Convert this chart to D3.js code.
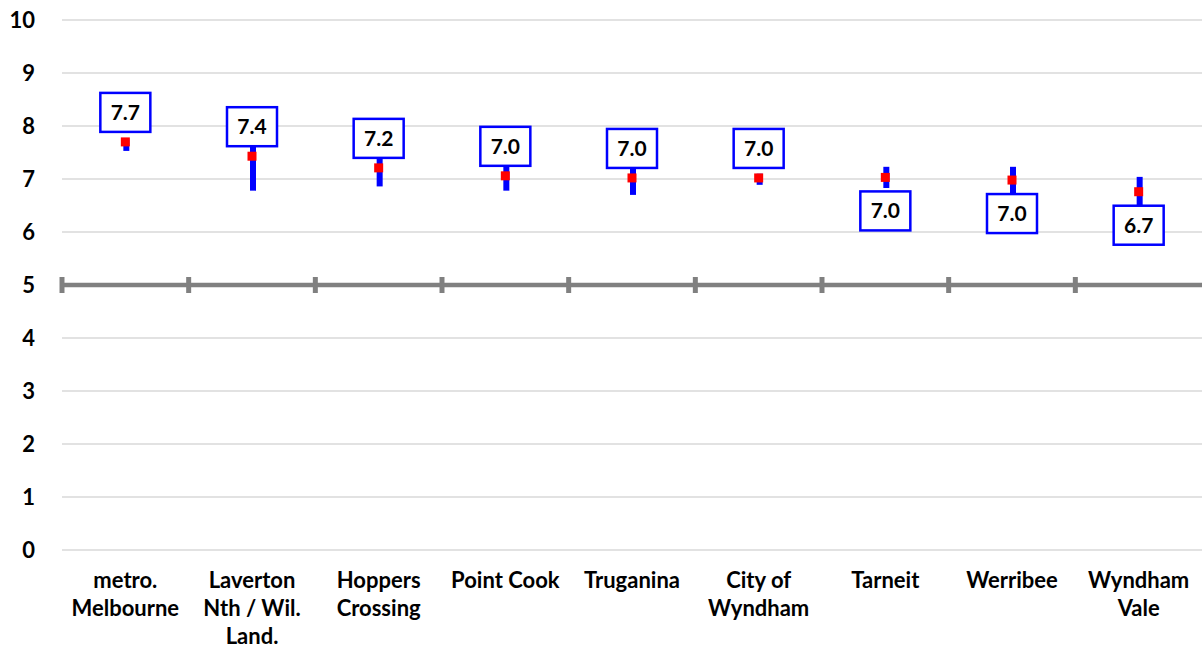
<!DOCTYPE html>
<html><head><meta charset="utf-8">
<script src="https://cdn.jsdelivr.net/npm/d3@7"></script>
<style>
html,body{margin:0;padding:0;background:#fff;}
svg{display:block;font-family:Lato,"Liberation Sans",sans-serif;}
</style></head>
<body>
<svg id="chart" width="1202" height="648"></svg>
<script>
const categories = [["metro.","Melbourne"],["Laverton","Nth / Wil.","Land."],["Hoppers","Crossing"],["Point Cook"],["Truganina"],["City of","Wyndham"],["Tarneit"],["Werribee"],["Wyndham","Vale"]];
const means = [7.70, 7.43, 7.21, 7.06, 7.02, 7.02, 7.03, 6.98, 6.76];
const lows  = [7.53, 6.78, 6.86, 6.78, 6.70, 6.89, 6.83, 6.73, 6.48];
const highs = [7.75, 8.08, 7.56, 7.34, 7.34, 7.10, 7.23, 7.23, 7.04];
const labels = ["7.7","7.4","7.2","7.0","7.0","7.0","7.0","7.0","6.7"];
const labelAbove = [true,true,true,true,true,true,false,false,false];
const yTicks = [0,1,2,3,4,5,6,7,8,9,10];

const svg = d3.select("#chart");
const W = 1202;
const x = d3.scaleBand().domain(d3.range(categories.length)).range([62, 1202]).paddingInner(0).paddingOuter(0);
const y = d3.scaleLinear().domain([0,10]).range([550,20]);

// gridlines
svg.append("g").selectAll("line").data(yTicks.filter(d=>d!==5)).join("line")
  .attr("x1",62).attr("x2",W).attr("y1",d=>y(d)).attr("y2",d=>y(d))
  .attr("stroke","#d9d9d9").attr("stroke-width",1.3);

// y axis labels
svg.append("g").selectAll("text").data(yTicks).join("text")
  .attr("x",35).attr("y",d=>y(d)).attr("dy","0.36em")
  .attr("text-anchor","end").attr("font-weight","bold").attr("font-size",22).attr("fill","#000")
  .text(d=>d);

// category axis at 5
const ax = svg.append("g");
ax.append("line").attr("x1",62).attr("x2",W).attr("y1",y(5)).attr("y2",y(5))
  .attr("stroke","#808080").attr("stroke-width",4.5);
const tickXs = d3.range(categories.length).map(i=>x(i));
ax.selectAll("line.t").data(tickXs).join("line").attr("class","t")
  .attr("x1",d=>d).attr("x2",d=>d).attr("y1",y(5)-8).attr("y2",y(5)+8)
  .attr("stroke","#808080").attr("stroke-width",5);

// category labels
const cx = i => x(i) + x.bandwidth()/2;
const cl = svg.append("g");
categories.forEach((lines,i)=>{
  const t = cl.append("text").attr("x",cx(i)).attr("y",588)
    .attr("text-anchor","middle").attr("font-weight","bold").attr("font-size",22).attr("fill","#000");
  lines.forEach((ln,j)=>t.append("tspan").attr("x",cx(i)).attr("dy",j===0?0:28).text(ln));
});

// error bars
svg.append("g").selectAll("line").data(d3.range(means.length)).join("line")
  .attr("x1",i=>cx(i)+1).attr("x2",i=>cx(i)+1).attr("y1",i=>y(lows[i])).attr("y2",i=>y(highs[i]))
  .attr("stroke","#0000ff").attr("stroke-width",6);

// mean markers
svg.append("g").selectAll("rect").data(d3.range(means.length)).join("rect")
  .attr("x",i=>cx(i)-4.5).attr("y",i=>y(means[i])-4.5).attr("width",9).attr("height",9)
  .attr("fill","#ff0000");

// labels
const bw=50, bh=39;
const lg = svg.append("g").selectAll("g").data(d3.range(means.length)).join("g")
  .attr("transform",i=>{
    const top = labelAbove[i] ? y(means[i]) - 10 - bh : y(means[i]) + 14;
    return `translate(${cx(i)-bw/2},${top})`;
  });
lg.append("rect").attr("width",bw).attr("height",bh).attr("fill","#fff")
  .attr("stroke","#0000ff").attr("stroke-width",2.5);
lg.append("text").attr("x",bw/2).attr("y",bh/2).attr("dy","0.36em").attr("text-anchor","middle")
  .attr("font-weight","bold").attr("font-size",21).attr("fill","#000").text(i=>labels[i]);
</script>
</body></html>
